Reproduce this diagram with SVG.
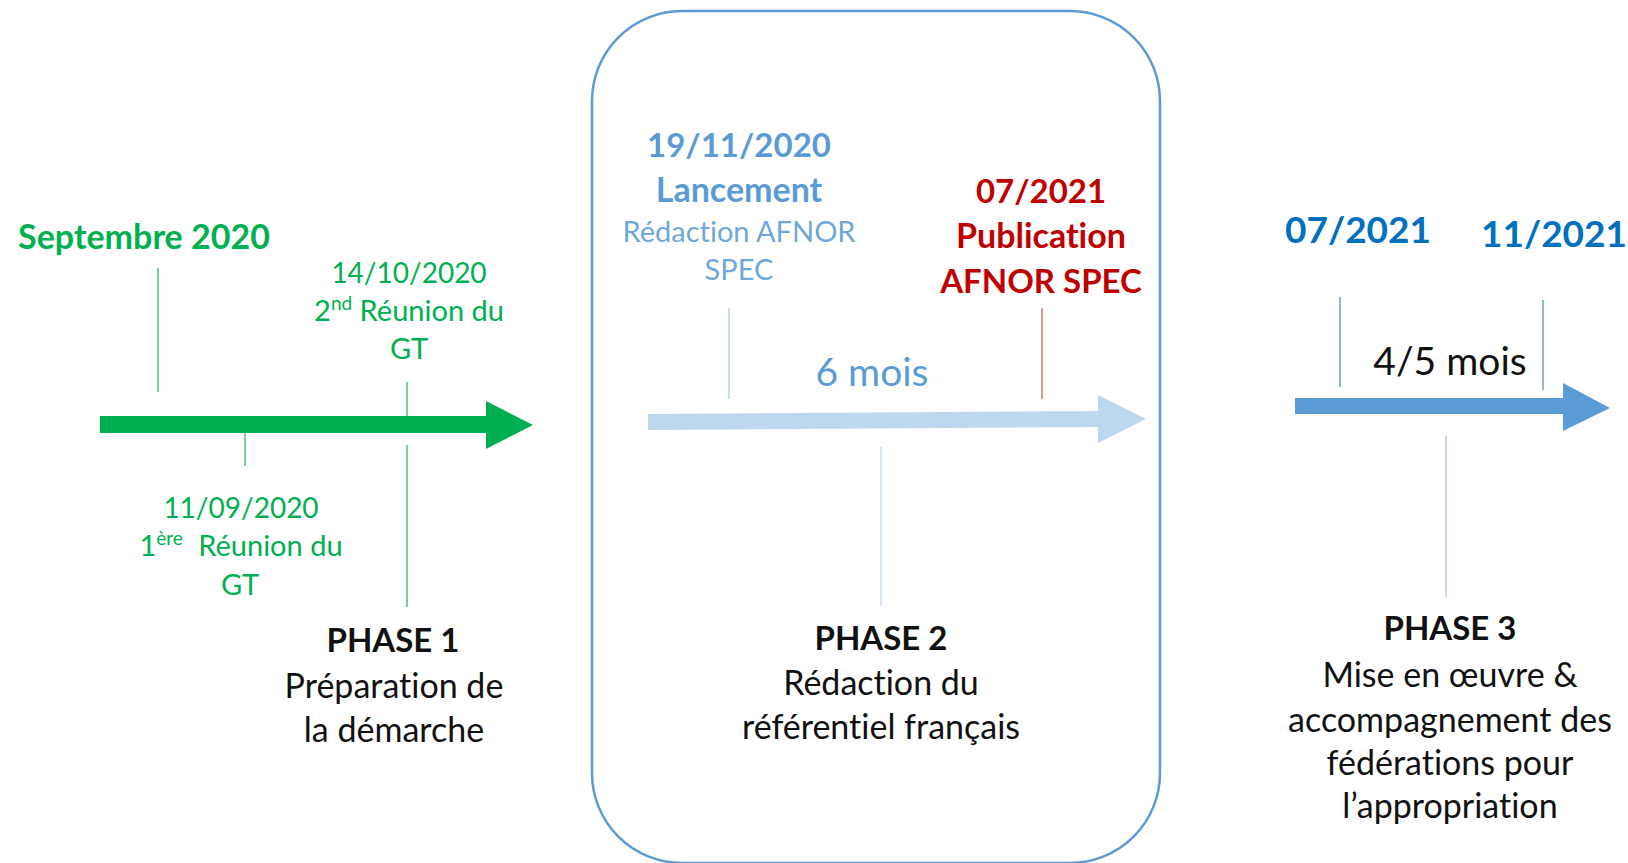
<svg xmlns="http://www.w3.org/2000/svg" width="1628" height="863" viewBox="0 0 1628 863">
<style>
text{font-family:Lato,"Open Sans","Liberation Sans",sans-serif;text-anchor:middle;font-variant-ligatures:none}
.b{font-weight:bold}
.g{fill:#00B050}
.lb{fill:#5B9BD5}
.r{fill:#C00000}
.db{fill:#0070C0}
.k{fill:#111}
.body{font-size:34px}
.tick{fill:none;stroke-width:1.4}
</style>
<rect width="1628" height="863" fill="#fff"/>
<g id="phase2-frame">
<rect x="592" y="11" width="568" height="852" rx="90" ry="90" fill="none" stroke="#5B9BD5" stroke-width="2.5"/>
</g>
<g id="connectors">
<polygon points="100,416 486,416 486,401 533,425 486,449 486,433 100,433" fill="#00B050"/>
<polygon points="648,414 1098,411 1098,395 1146,419 1098,443 1098,427 648,430" fill="#BDD7EE"/>
<polygon points="1295,398 1563,398 1563,383 1610,408 1563,431 1563,414 1295,414" fill="#5B9BD5"/>
<line class="tick" x1="158" y1="268" x2="158" y2="392" stroke="#3CC070"/>
<line class="tick" x1="245" y1="433" x2="245" y2="466" stroke="#3CC070"/>
<line class="tick" x1="407" y1="382" x2="407" y2="416" stroke="#3CC070"/>
<line class="tick" x1="407" y1="445" x2="407" y2="607" stroke="#3CC070"/>
<line class="tick" x1="729" y1="308" x2="729" y2="399" stroke="#B4D0EC"/>
<line class="tick" x1="1042" y1="308" x2="1042" y2="399" stroke="#D96A6A"/>
<line class="tick" x1="881" y1="447" x2="881" y2="606" stroke="#C6DCF0"/>
<line class="tick" x1="1340" y1="297" x2="1340" y2="387" stroke="#5B9BD5"/>
<line class="tick" x1="1543" y1="300" x2="1543" y2="390" stroke="#5B9BD5"/>
<line class="tick" x1="1446" y1="436" x2="1446" y2="597" stroke="#A9C9EA"/>
</g>
<g id="septembre">
<text class="b g" x="144" y="249" font-size="34">Septembre 2020</text>
</g>
<g id="reunion2">
<text class="g" x="409" y="283" font-size="28">14/10/2020</text>
<text class="g" x="409" y="321" font-size="29">2<tspan font-size="19" dy="-11">nd</tspan><tspan dy="11"> Réunion du</tspan></text>
<text class="g" x="409" y="359" font-size="29">GT</text>
</g>
<g id="reunion1">
<text class="g" x="241" y="518" font-size="28">11/09/2020</text>
<text class="g" x="241" y="556" font-size="29">1<tspan font-size="19" dy="-11">ère</tspan><tspan dy="11" dx="8"> Réunion du</tspan></text>
<text class="g" x="240" y="595" font-size="29">GT</text>
</g>
<g id="phase1">
<text class="b k" x="393" y="652" font-size="33">PHASE 1</text>
<text class="k body" x="394" y="698">Préparation de</text>
<text class="k body" x="394" y="742">la démarche</text>
</g>
<g id="lancement">
<text class="b lb" x="739" y="157" font-size="33">19/11/2020</text>
<text class="b lb" x="739" y="202" font-size="34">Lancement</text>
<text class="lb" x="739" y="242" font-size="29" fill-opacity="0.9">Rédaction AFNOR</text>
<text class="lb" x="739" y="280" font-size="29" fill-opacity="0.9">SPEC</text>
</g>
<g id="publication">
<text class="b r" x="1041" y="203" font-size="33">07/2021</text>
<text class="b r" x="1041" y="248" font-size="34">Publication</text>
<text class="b r" x="1041" y="293" font-size="33">AFNOR SPEC</text>
</g>
<g id="duree2">
<text class="lb" x="872" y="386" font-size="39">6 mois</text>
</g>
<g id="phase2">
<text class="b k" x="881" y="650" font-size="33">PHASE 2</text>
<text class="k body" x="881" y="695">Rédaction du</text>
<text class="k body" x="881" y="739">référentiel français</text>
</g>
<g id="dates3">
<text class="b db" x="1358" y="243" font-size="37">07/2021</text>
<text class="b db" x="1554" y="247" font-size="37">11/2021</text>
</g>
<g id="duree3">
<text class="k" x="1450" y="375" font-size="39">4/5 mois</text>
</g>
<g id="phase3">
<text class="b k" x="1450" y="640" font-size="33">PHASE 3</text>
<text class="k body" x="1450" y="687">Mise en œuvre &amp;</text>
<text class="k body" x="1450" y="732">accompagnement des</text>
<text class="k body" x="1450" y="775">fédérations pour</text>
<text class="k body" x="1450" y="818">l’appropriation</text>
</g>
</svg>
